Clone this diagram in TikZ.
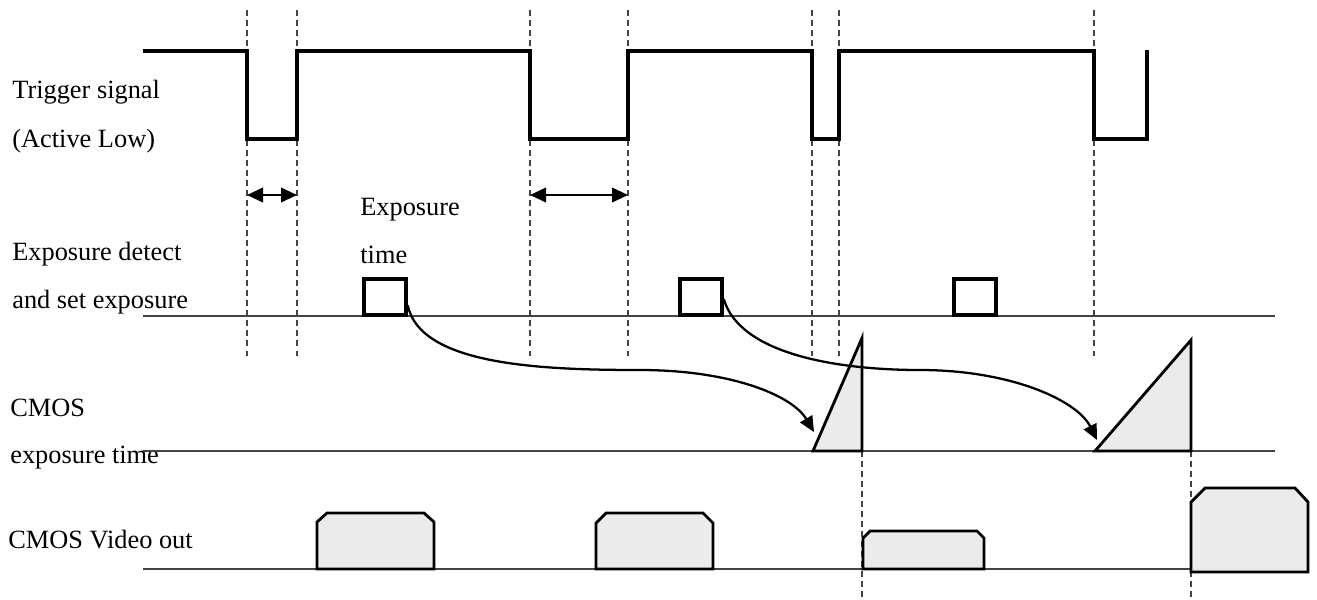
\documentclass[tikz,border=0pt]{standalone}
\usepackage{fontspec}
\setmainfont{Liberation Serif}
\usetikzlibrary{arrows.meta}
\definecolor{boxfill}{HTML}{EBEBEB}
\definecolor{rule}{HTML}{444444}

\begin{document}
\begin{tikzpicture}[x=0.02cm, y=-0.02cm,
      lbl/.style={anchor=base west, inner sep=0pt, font=\fontsize{15}{18}\selectfont},
      wave/.style={line width=2pt, line join=miter},
      baseline/.style={line width=0.75pt, rule},
      guide/.style={dash pattern=on 3.4pt off 2.3pt, line width=0.6pt, rule},
      expbox/.style={draw, line width=2pt, minimum width=0.84cm, minimum height=0.72cm, inner sep=0pt},
      ramp/.style={draw, fill=boxfill, line width=1.6pt, line join=miter},
      vidbox/.style={draw, fill=boxfill, line width=1.6pt},
      arr/.style={-{Triangle[length=3.1mm, width=2.8mm]}, line width=1.3pt},
      dbl/.style={{Triangle[length=3.2mm, width=2.9mm]}-{Triangle[length=3.2mm, width=2.9mm]}, line width=1.3pt}
    ]
      \useasboundingbox (0,0) rectangle (1317,599);

      % Row labels
      \node[lbl] (trig) at (12,98) {Trigger signal};
      \node[lbl] (active) at (12,147) {(Active Low)};
      \node[lbl] (detect) at (12,260) {Exposure detect};
      \node[lbl] (setexp) at (12,308) {and set exposure};
      \node[lbl] (cmos) at (10,416) {CMOS};
      \node[lbl] (cmostime) at (10,463) {exposure time};
      \node[lbl] (video) at (8,548) {CMOS Video out};
      \node[lbl] (exptxt) at (360,215) {Exposure};
      \node[lbl] (exptxt2) at (360,263) {time};

      % Vertical guides
      \foreach \x in {247,297,530,628,812,839,1094}
        \draw[guide] (\x,10) -- (\x,357);
      \foreach \x in {862,1191}
        \draw[guide] (\x,451) -- (\x,599);

      % Trigger waveform
      \draw[wave] (143,51) -- (247,51) -- (247,139) -- (297,139) -- (297,51)
        -- (530,51) -- (530,139) -- (628,139) -- (628,51)
        -- (812,51) -- (812,139) -- (839,139) -- (839,51)
        -- (1094,51) -- (1094,139) -- (1147,139) -- (1147,50);

      % Exposure time spans
      \coordinate (w1a) at (247,195);
      \coordinate (w1b) at (297,195);
      \coordinate (w2a) at (530,195);
      \coordinate (w2b) at (628,195);
      \draw[dbl] (w1a) -- (w1b);
      \draw[dbl] (w2a) -- (w2b);

      % Baselines
      \draw[baseline] (143,316) -- (1275,316);
      \draw[baseline] (143,451) -- (1275,451);
      \draw[baseline] (143,569) -- (1191,569);

      % Exposure detect boxes
      \node[expbox] (sq1) at (385,297) {};
      \node[expbox] (sq2) at (701,297) {};
      \node[expbox] (sq3) at (975,297) {};

      % CMOS exposure ramps
      \draw[ramp] (813,451) -- (862,338) -- (862,451) -- cycle;
      \draw[ramp] (1095,451) -- (1191,340) -- (1191,451) -- cycle;
      \coordinate (tip1) at (814,432);
      \coordinate (tip2) at (1097,440);

      \draw[arr] (sq1.-20) .. controls (420,365) and (540,370) .. (640,370)
        .. controls (730,370) and (792,395) .. (tip1);
      \draw[arr] (sq2.-5) .. controls (740,355) and (840,370) .. (920,370)
        .. controls (1010,370) and (1077,400) .. (tip2);

      % Video out frames
      \draw[vidbox] (317,569) -- (317,522) -- (327,513) -- (424,513) -- (434,522) -- (434,569) -- cycle;
      \draw[vidbox] (596,569) -- (596,523) -- (606,513) -- (703,513) -- (713,523) -- (713,569) -- cycle;
      \draw[vidbox] (863,569) -- (863,538) -- (870,531) -- (977,531) -- (984,538) -- (984,569) -- cycle;
      \draw[vidbox] (1191,572) -- (1191,502) -- (1205,488) -- (1295,488) -- (1308,502) -- (1308,572) -- cycle;
\end{tikzpicture}
\end{document}
